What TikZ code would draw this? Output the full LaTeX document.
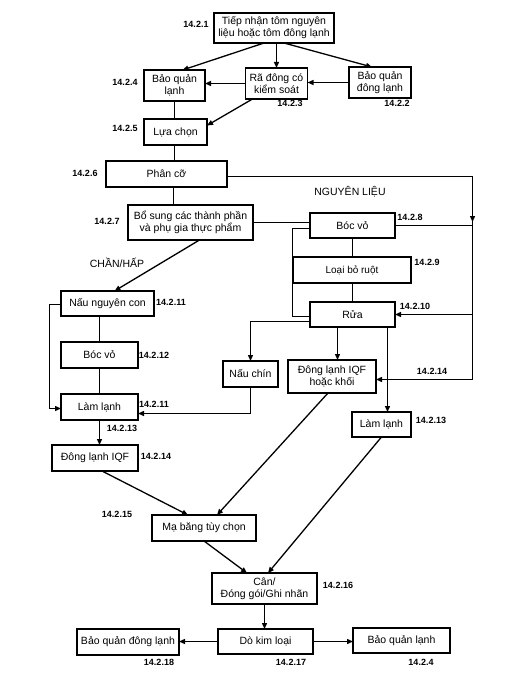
\documentclass[tikz,border=0pt]{standalone}
\usepackage{fontspec}
\setmainfont{Liberation Sans}
\usetikzlibrary{arrows.meta,calc}
\begin{document}
\begin{tikzpicture}[x=1pt,y=-1pt,
  bx/.style={draw,line width=1.3pt,inner sep=0pt,outer sep=0pt,align=center,font=\fontsize{10.5}{12}\selectfont},
  lb/.style={inner sep=0pt,font=\fontsize{9}{10}\selectfont\bfseries},
  hd/.style={inner sep=0pt,font=\fontsize{10.5}{12}\selectfont},
  ln/.style={line width=1.3pt},
  ar/.style={line width=1.3pt,-{Triangle[length=6pt,width=5pt]}},
  every node/.append style={text=black}]
\useasboundingbox (0,0) rectangle (521,685);
% boxes
\node[bx,minimum width=120,minimum height=30] (n1) at (274,28) {Tiếp nhận tôm nguyên\\liệu hoặc tôm đông lạnh};
\node[bx,minimum width=61,minimum height=31] (n4) at (174.5,85.5) {Bảo quản\\lạnh};
\node[bx,minimum width=62,minimum height=31] (n3) at (276.5,83.5) {Rã đông có\\kiểm soát};
\node[bx,minimum width=62,minimum height=31] (n2) at (380,82.5) {Bảo quản\\đông lạnh};
\node[bx,minimum width=63,minimum height=26] (n5) at (175.5,132) {Lựa chọn};
\node[bx,minimum width=121,minimum height=26] (n6) at (166.5,174) {Phân cỡ};
\node[bx,minimum width=125,minimum height=35] (n7) at (190.5,222.5) {Bổ sung các thành phần\\và phụ gia thực phẩm};
\node[bx,minimum width=85,minimum height=25] (n8) at (352.5,225.5) {Bóc vỏ};
\node[bx,minimum width=118,minimum height=26,font=\fontsize{10}{11}\selectfont] (n9) at (352,270) {Loại bỏ ruột};
\node[bx,minimum width=85,minimum height=25] (n10) at (352.5,314.5) {Rửa};
\node[bx,minimum width=93,minimum height=25] (n11) at (107.5,303.5) {Nấu nguyên con};
\node[bx,minimum width=77,minimum height=26] (n12) at (99.5,355) {Bóc vỏ};
\node[bx,minimum width=77,minimum height=26] (n13) at (99.5,407) {Làm lạnh};
\node[bx,minimum width=86,minimum height=26] (n14) at (95,458) {Đông lạnh IQF};
\node[bx,minimum width=55,minimum height=26] (nc) at (250.5,374) {Nấu chín};
\node[bx,minimum width=88,minimum height=33] (nk) at (332,376.5) {Đông lạnh IQF\\hoặc khối};
\node[bx,minimum width=59,minimum height=25] (nl) at (381.5,424.5) {Làm lạnh};
\node[bx,minimum width=104,minimum height=26] (n15) at (204,528) {Mạ băng tùy chọn};
\node[bx,minimum width=105,minimum height=31] (n16) at (264.5,588.5) {Cân/\\Đóng gói/Ghi nhãn};
\node[bx,minimum width=95,minimum height=25] (n17) at (265.5,641.5) {Dò kim loại};
\node[bx,minimum width=102,minimum height=26] (n18) at (128,642) {Bảo quản đông lạnh};
\node[bx,minimum width=97,minimum height=25] (n4b) at (401.5,640.5) {Bảo quản lạnh};
% labels
\node[lb] (l1) at (196,24) {14.2.1};
\node[lb] (l4) at (125,82) {14.2.4};
\node[lb] (l3) at (290,103) {14.2.3};
\node[lb] (l2) at (397,103) {14.2.2};
\node[lb] (l5) at (125,128) {14.2.5};
\node[lb] (l6) at (85,173) {14.2.6};
\node[hd] (h1) at (350,192) {NGUYÊN LIỆU};
\node[hd] (h2) at (117,263) {CHẦN/HẤP};
\node[lb] (l7) at (107,221) {14.2.7};
\node[lb] (l8) at (410,217) {14.2.8};
\node[lb] (l9) at (427,262) {14.2.9};
\node[lb] (l10) at (415,306) {14.2.10};
\node[lb] (l11a) at (171,302) {14.2.11};
\node[lb] (l12) at (154,355) {14.2.12};
\node[lb] (l11b) at (154,404) {14.2.11};
\node[lb] (l13a) at (122,428) {14.2.13};
\node[lb] (l14a) at (156,456) {14.2.14};
\node[lb] (l14b) at (432,371) {14.2.14};
\node[lb] (l13b) at (431,420) {14.2.13};
\node[lb] (l15) at (117,514) {14.2.15};
\node[lb] (l16) at (338,585) {14.2.16};
\node[lb] (l17) at (291,662) {14.2.17};
\node[lb] (l18) at (159,662) {14.2.18};
\node[lb] (l4b) at (421,662) {14.2.4};
% helper coordinates
\coordinate (rt) at (472.5,176.5);
\coordinate (rm) at (472.5,225.5);
\coordinate (rma) at (472.5,222);
\coordinate (rr) at (472.5,314.5);
\coordinate (rb) at (472.5,379.5);
\coordinate (s67) at ($(n6.south)+(7,0)$);
\coordinate (b8) at ($(n8.west)+(0,3)$);
\coordinate (b10) at ($(n10.west)+(0,2)$);
\coordinate (b11) at ($(n11.west)+(0,1)$);
\coordinate (b13) at ($(n13.west)+(0,1.5)$);
\coordinate (w10) at ($(n10.west)+(0,7)$);
\coordinate (e13) at ($(n13.east)+(0,6.5)$);
\coordinate (sk) at ($(n10.south)+(-15,0)$);
\coordinate (sl) at ($(n10.south)+(35,0)$);
% connectors
\draw[ar] ($(n1.south)+(-10,0)$) -- ($(n4.north)+(8,0)$);
\draw[ar] (n1.south -| n3.north) -- (n3.north);
\draw[ar] ($(n1.south)+(10,0)$) -- ($(n2.north)+(-8,0)$);
\draw[ar] (n3.west) -- (n3.west -| n4.east);
\draw[ar] (n2.west) -- (n2.west -| n3.east);
\draw[ln] (n4.south) -- (n4.south |- n5.north);
\draw[ar] ($(n3.south)+(-24,0)$) -- ($(n5.north east)!0.25!(n5.south east)$);
\draw[ln] (n4.south |- n5.south) -- (n4.south |- n6.north);
\draw[ln] (s67) -- (s67 |- n7.north);
\draw[ln] (n6.east |- rt) -- (rt) -- (rb);
\draw[ar] (rt) -- (rma);
\draw[ar] (rb) -- (rb -| nk.east);
\draw[ar] (rr) -- (n10.east);
\draw[ln] (n8.east) -- (rm);
\draw[ln] (n7.east) -- (n7.east -| n8.west);
\draw[ln] (b8) -- ++(-17.5,0) |- (b10);
\draw[ln] (n8.south) -- (n8.south |- n9.north);
\draw[ln] (n8.south |- n9.south) -- (n10.north);
\draw[ar] ($(n7.south)+(9,0)$) -- ($(n11.north)+(7,0)$);
\draw[ln] (n11.south -| n12.north) -- (n12.north);
\draw[ln] (n12.south) -- (n13.north);
\draw[ar] (b11) -- ++(-11.5,0) |- (b13);
\draw[ar] (n13.south) -- (n13.south |- n14.north);
\draw[ar] (w10) -| (nc.north);
\draw[ar] (nc.south) |- (e13);
\draw[ar] (sk) -- (sk |- nk.north);
\draw[ar] (sl) -- (sl |- nl.north);
\draw[ar] ($(n14.south)+(7,0)$) -- ($(n15.north)+(-16,0)$);
\draw[ar] ($(nk.south)+(-4,0)$) -- ($(n15.north)+(13,0)$);
\draw[ar] (nl.south) -- ($(n16.north)+(3.5,0)$);
\draw[ar] (n15.south) -- ($(n16.north)+(-17.5,0)$);
\draw[ar] (n16.south) -- (n16.south |- n17.north);
\draw[ar] (n17.west) -- (n17.west -| n18.east);
\draw[ar] (n17.east) -- (n17.east -| n4b.west);
\end{tikzpicture}
\end{document}
